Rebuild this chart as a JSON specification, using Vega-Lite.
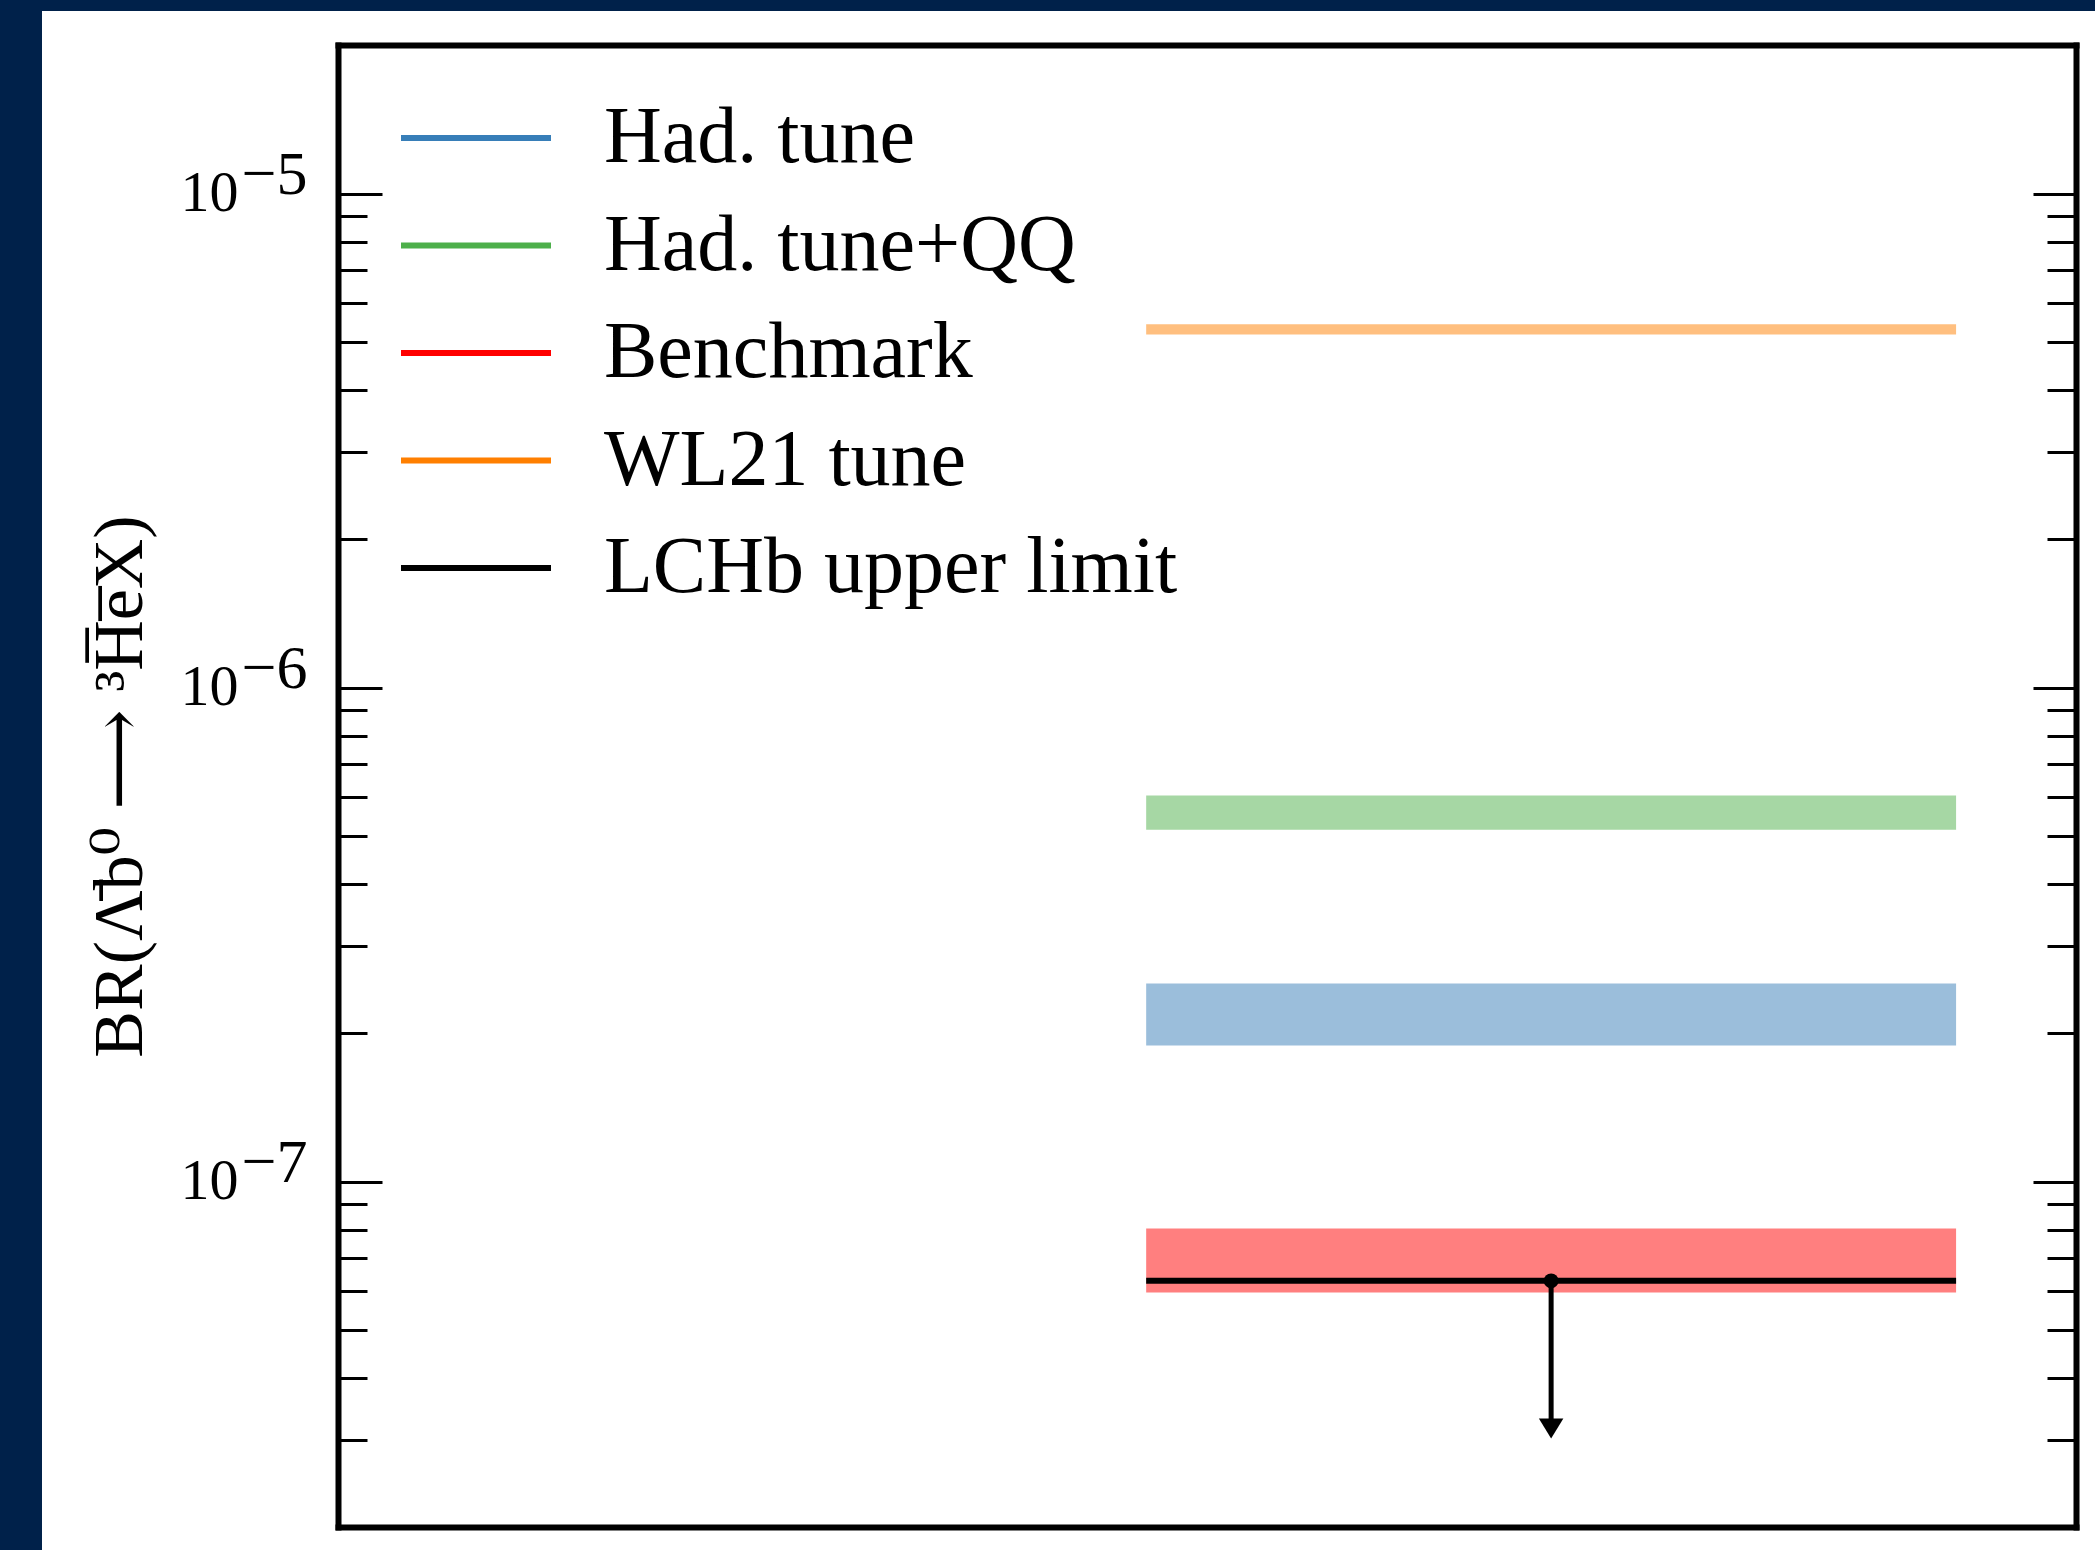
{
  "$schema": "https://vega.github.io/schema/vega-lite/v6.json",
  "width": 2053,
  "height": 1539,
  "autosize": {"type": "none"},
  "padding": {"left": 42, "top": 11, "right": 0, "bottom": 0},
  "background": "#00214A",
  "view": {"fill": "white", "stroke": null},
  "config": {
    "axis": {"grid": false, "domainColor": "black", "tickColor": "black", "labelColor": "black", "titleColor": "black"},
    "legend": {"title": null}
  },
  "datasets": {
    "bands": [
      {"model": "WL21 tune", "lo": 5.19e-6, "hi": 5.44e-6, "xmin": 0.465, "xmax": 0.931},
      {"model": "Had. tune+QQ", "lo": 5.16e-7, "hi": 6.05e-7, "xmin": 0.465, "xmax": 0.931},
      {"model": "Had. tune", "lo": 1.886e-7, "hi": 2.52e-7, "xmin": 0.465, "xmax": 0.931},
      {"model": "Benchmark", "lo": 5.97e-8, "hi": 8.04e-8, "xmin": 0.465, "xmax": 0.931}
    ],
    "limit": [
      {"model": "LCHb upper limit", "limit": 6.3e-8, "xmin": 0.465, "xmax": 0.931, "xc": 0.698, "shaft_end": 3.3e-8, "arrow_end": 3.02e-8}
    ]
  },
  "resolve": {"axis": {"x": "independent", "y": "independent"}},
  "layer": [
    {
      "data": {"name": "bands"},
      "mark": {"type": "rect", "opacity": 0.5},
      "encoding": {
        "x": {"field": "xmin", "type": "quantitative",
              "scale": {"domain": [0, 1], "range": [296, 2034], "nice": false, "zero": false},
              "axis": {"orient": "bottom", "offset": -23, "domain": true, "domainWidth": 6, "domainCap": "square", "ticks": false, "labels": false, "title": null}},
        "x2": {"field": "xmax"},
        "y": {"field": "lo", "type": "quantitative",
              "scale": {"type": "log", "domain": [2e-8, 2e-5], "range": [1516, 34], "nice": false},
              "axis": {"orient": "left", "offset": -296, "values": [1e-7, 1e-6, 1e-5],
                       "domain": true, "domainWidth": 6, "domainCap": "square",
                       "ticks": true, "tickSize": -44, "tickWidth": 3,
                       "labels": true, "labelPadding": 144, "labelFont": "Liberation Serif", "labelFontSize": 58,
                       "labelExpr": "'10'",
                       "title": "BR(Λ̄b⁰ ⟶ ³H̅e̅X)", "titleFont": "Liberation Serif, DejaVu Serif", "titleFontSize": 70, "titleFontWeight": "normal",
                       "titleX": -197, "titleBaseline": "alphabetic"}},
        "y2": {"field": "hi"},
        "color": {"field": "model", "type": "nominal",
                  "scale": {"domain": ["Had. tune", "Had. tune+QQ", "Benchmark", "WL21 tune", "LCHb upper limit"],
                            "range": ["#377EB8", "#4DAF4A", "#FF0000", "#FF7F00", "#000000"]},
                  "legend": {"orient": "none", "legendX": 356, "legendY": 88, "padding": 0,
                             "symbolType": "stroke", "symbolSize": 22500, "symbolStrokeWidth": 6, "symbolOpacity": 1,
                             "clipHeight": 78, "rowPadding": 27.5,
                             "labelFont": "Liberation Serif", "labelFontSize": 80, "labelColor": "black",
                             "labelLimit": 1000, "labelOffset": 50}}
      }
    },
    {
      "data": {"name": "limit"},
      "mark": {"type": "rule", "strokeWidth": 6},
      "encoding": {
        "x": {"field": "xmin", "type": "quantitative",
              "axis": {"orient": "top", "offset": -34, "domain": true, "domainWidth": 6, "domainCap": "square", "ticks": false, "labels": false, "title": null}},
        "x2": {"field": "xmax"},
        "y": {"field": "limit", "type": "quantitative",
              "axis": {"orient": "right", "offset": -19, "values": [1e-7, 1e-6, 1e-5],
                       "domain": true, "domainWidth": 6, "domainCap": "square",
                       "ticks": true, "tickSize": -43, "tickWidth": 3, "labels": false, "title": null}},
        "color": {"field": "model", "type": "nominal",
                  "scale": {"domain": ["Had. tune", "Had. tune+QQ", "Benchmark", "WL21 tune", "LCHb upper limit"],
                            "range": ["#377EB8", "#4DAF4A", "#FF0000", "#FF7F00", "#000000"]},
                  "legend": {"orient": "none", "legendX": 356, "legendY": 88, "padding": 0,
                             "symbolType": "stroke", "symbolSize": 22500, "symbolStrokeWidth": 6, "symbolOpacity": 1,
                             "clipHeight": 78, "rowPadding": 27.5,
                             "labelFont": "Liberation Serif", "labelFontSize": 80, "labelColor": "black",
                             "labelLimit": 1000, "labelOffset": 50}}
      }
    },
    {
      "data": {"name": "limit"},
      "mark": {"type": "rule", "strokeWidth": 5, "color": "black"},
      "encoding": {
        "x": {"field": "xc", "type": "quantitative", "axis": null},
        "y": {"field": "limit", "type": "quantitative",
              "axis": {"orient": "left", "offset": -296,
                       "values": [3e-8, 4e-8, 5e-8, 6e-8, 7e-8, 8e-8, 9e-8, 2e-7, 3e-7, 4e-7, 5e-7, 6e-7, 7e-7, 8e-7, 9e-7, 2e-6, 3e-6, 4e-6, 5e-6, 6e-6, 7e-6, 8e-6, 9e-6],
                       "domain": false, "ticks": true, "tickSize": -29, "tickWidth": 3, "labels": false, "title": null}},
        "y2": {"field": "shaft_end"}
      }
    },
    {
      "data": {"name": "limit"},
      "mark": {"type": "point", "shape": "M0,0L-1,-1.65L1,-1.65Z", "size": 600, "filled": true, "color": "black", "opacity": 1},
      "encoding": {
        "x": {"field": "xc", "type": "quantitative", "axis": null},
        "y": {"field": "arrow_end", "type": "quantitative",
              "axis": {"orient": "right", "offset": -19,
                       "values": [3e-8, 4e-8, 5e-8, 6e-8, 7e-8, 8e-8, 9e-8, 2e-7, 3e-7, 4e-7, 5e-7, 6e-7, 7e-7, 8e-7, 9e-7, 2e-6, 3e-6, 4e-6, 5e-6, 6e-6, 7e-6, 8e-6, 9e-6],
                       "domain": false, "ticks": true, "tickSize": -29, "tickWidth": 3, "labels": false, "title": null}}
      }
    },
    {
      "data": {"name": "limit"},
      "mark": {"type": "point", "shape": "circle", "size": 220, "filled": true, "color": "black", "opacity": 1},
      "encoding": {
        "x": {"field": "xc", "type": "quantitative", "axis": null},
        "y": {"field": "limit", "type": "quantitative",
              "axis": {"orient": "left", "offset": -296, "values": [1e-7, 1e-6, 1e-5],
                       "domain": false, "ticks": false, "labels": true, "labelPadding": 31,
                       "labelFont": "Liberation Serif", "labelFontSize": 62, "labelBaseline": "alphabetic", "labelOffset": 0,
                       "labelExpr": "datum.value > 5e-6 ? '−5' : datum.value > 5e-7 ? '−6' : '−7'",
                       "title": null}}
      }
    }
  ]
}
